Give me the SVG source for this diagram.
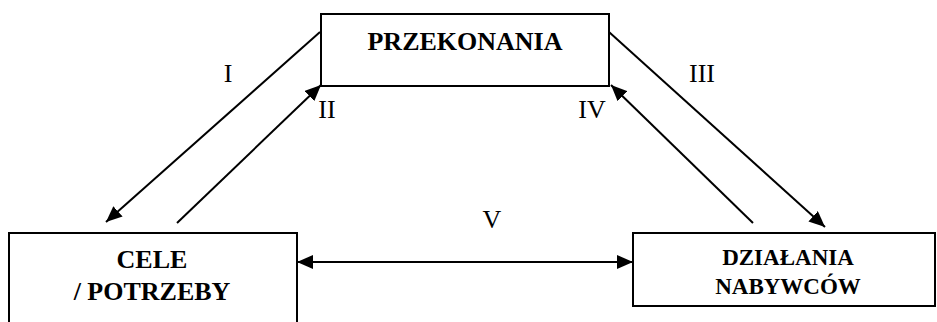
<svg xmlns="http://www.w3.org/2000/svg" width="937" height="322" viewBox="0 0 937 322">
<style>
.box{fill:#fff;stroke:#000;stroke-width:2}
.t{font-family:'Liberation Serif',Tinos,'Times New Roman','DejaVu Serif',serif;font-weight:bold;fill:#000;text-anchor:middle}
.lbl{font-family:'Liberation Serif',Tinos,'Times New Roman','DejaVu Serif',serif;font-size:26px;fill:#000;text-anchor:middle}
.c{stroke:#000;stroke-width:2;fill:none}
</style>
<defs>
<marker id="ah" viewBox="0 0 16 14" refX="16" refY="7" markerWidth="16" markerHeight="14" markerUnits="userSpaceOnUse" orient="auto-start-reverse">
<path d="M0,0 L16,7 L0,14 z" fill="#000"/>
</marker>
</defs>
<rect width="937" height="322" fill="#fff"/>
<g id="przekonania">
<rect class="box" x="321" y="14" width="288" height="72"/>
<text class="t" x="465" y="50" font-size="26">PRZEKONANIA</text>
</g>
<g id="cele">
<rect class="box" x="9" y="233" width="288" height="100"/>
<text class="t" x="152" y="268" font-size="26">CELE</text>
<text class="t" x="152" y="300" font-size="26">/ POTRZEBY</text>
</g>
<g id="dzialania">
<rect class="box" x="633" y="233" width="302" height="73"/>
<text class="t" x="788" y="265" font-size="23">DZIAŁANIA</text>
<text class="t" x="788" y="294" font-size="23">NABYWCÓW</text>
</g>
<g id="connectors">
<line class="c" x1="320" y1="32" x2="106" y2="222" marker-end="url(#ah)"/>
<line class="c" x1="177" y1="223" x2="321" y2="85" marker-end="url(#ah)"/>
<line class="c" x1="609" y1="32" x2="825" y2="227" marker-end="url(#ah)"/>
<line class="c" x1="753" y1="223" x2="611" y2="85" marker-end="url(#ah)"/>
<line class="c" x1="297" y1="262" x2="633" y2="262" marker-start="url(#ah)" marker-end="url(#ah)"/>
</g>
<g id="labels">
<text class="lbl" x="228" y="82">I</text>
<text class="lbl" x="327" y="118">II</text>
<text class="lbl" x="702" y="82">III</text>
<text class="lbl" x="592" y="118">IV</text>
<text class="lbl" x="492" y="228">V</text>
</g>
</svg>
